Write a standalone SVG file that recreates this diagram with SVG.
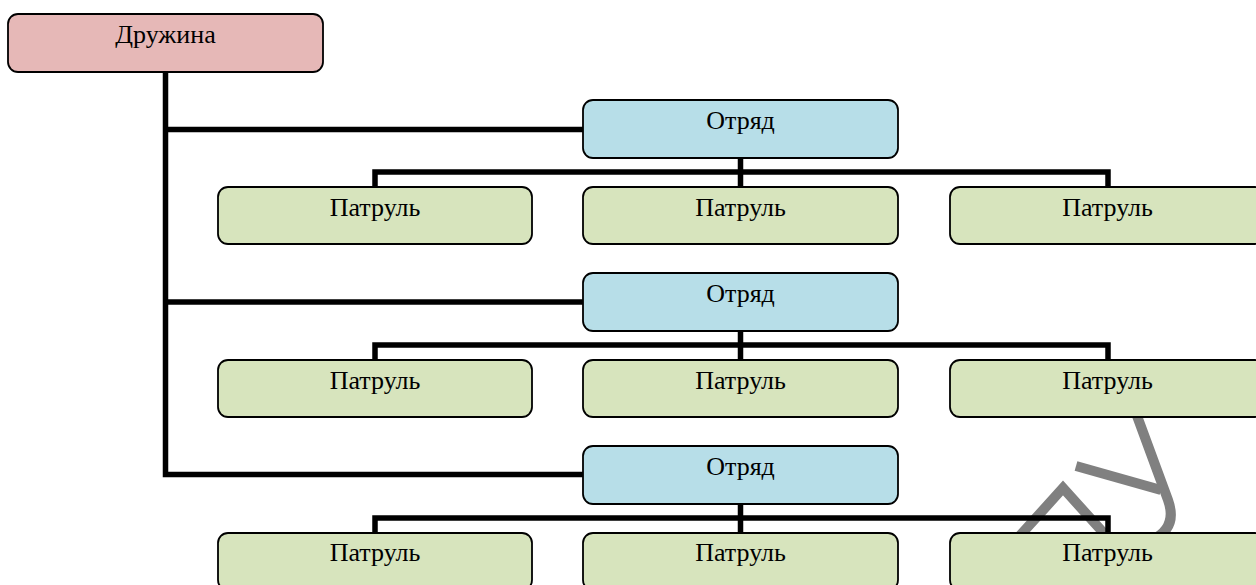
<svg xmlns="http://www.w3.org/2000/svg" width="1256" height="585" viewBox="0 0 1256 585">
<style>
.box{stroke:#000;stroke-width:1.8}
.root{fill:#E6B8B7}
.sq{fill:#B7DEE8}
.pt{fill:#D7E4BD}
.lbl{font-family:"Liberation Serif","Times New Roman",serif;font-size:26px;fill:#000;text-anchor:middle}
.con{fill:none;stroke:#000;stroke-width:5.5;stroke-linejoin:miter;stroke-linecap:butt}
.wm{fill:none;stroke:#808080;stroke-width:10;stroke-linejoin:miter}
</style>
<rect width="1256" height="585" fill="#fff"/>
<g id="watermark">
<path class="wm" d="M1016,540 L1063,488 L1110,540"/>
<path class="wm" d="M1076,466 L1161,490"/>
<path class="wm" d="M1133,405 L1168,500 Q1178,528 1152,540"/>
</g>
<g id="connectors">
<path class="con" d="M165.5,72 V474.5 H583"/>
<path class="con" d="M165.5,129.5 H583"/>
<path class="con" d="M165.5,302 H583"/>
<path class="con" d="M375,187 V172 H1108 V187 M740.5,158 V187"/>
<path class="con" d="M375,360 V345 H1108 V360 M740.5,331 V360"/>
<path class="con" d="M375,533 V518 H1108 V533 M740.5,504 V533"/>
</g>
<g id="druzhina">
<rect class="box root" x="8" y="14" width="315" height="58" rx="10"/>
<text class="lbl" x="165.5" y="43">Дружина</text>
</g>
<g id="otryad1">
<rect class="box sq" x="583" y="100" width="315" height="58" rx="10"/>
<text class="lbl" x="740.5" y="129">Отряд</text>
</g>
<g id="patrol1a"><rect class="box pt" x="218" y="187" width="314" height="57" rx="10"/><text class="lbl" x="375" y="216">Патруль</text></g>
<g id="patrol1b"><rect class="box pt" x="583" y="187" width="315" height="57" rx="10"/><text class="lbl" x="740.5" y="216">Патруль</text></g>
<g id="patrol1c"><rect class="box pt" x="950" y="187" width="315" height="57" rx="10"/><text class="lbl" x="1107.5" y="216">Патруль</text></g>
<g id="otryad2">
<rect class="box sq" x="583" y="273" width="315" height="58" rx="10"/>
<text class="lbl" x="740.5" y="302">Отряд</text>
</g>
<g id="patrol2a"><rect class="box pt" x="218" y="360" width="314" height="57" rx="10"/><text class="lbl" x="375" y="389">Патруль</text></g>
<g id="patrol2b"><rect class="box pt" x="583" y="360" width="315" height="57" rx="10"/><text class="lbl" x="740.5" y="389">Патруль</text></g>
<g id="patrol2c"><rect class="box pt" x="950" y="360" width="315" height="57" rx="10"/><text class="lbl" x="1107.5" y="389">Патруль</text></g>
<g id="otryad3">
<rect class="box sq" x="583" y="446" width="315" height="58" rx="10"/>
<text class="lbl" x="740.5" y="475">Отряд</text>
</g>
<g id="patrol3a"><rect class="box pt" x="218" y="533" width="314" height="57" rx="10"/><text class="lbl" x="375" y="561">Патруль</text></g>
<g id="patrol3b"><rect class="box pt" x="583" y="533" width="315" height="57" rx="10"/><text class="lbl" x="740.5" y="561">Патруль</text></g>
<g id="patrol3c"><rect class="box pt" x="950" y="533" width="315" height="57" rx="10"/><text class="lbl" x="1107.5" y="561">Патруль</text></g>
</svg>
